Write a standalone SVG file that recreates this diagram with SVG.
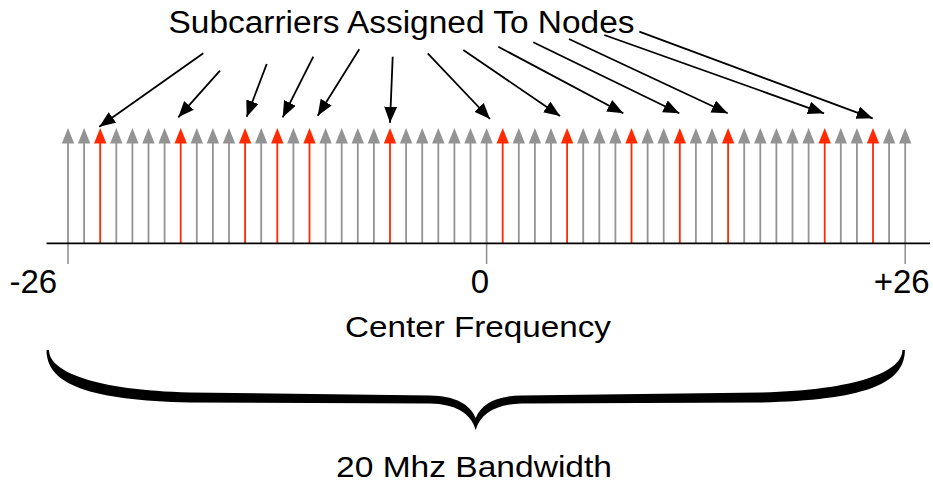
<svg xmlns="http://www.w3.org/2000/svg" xmlns:xlink="http://www.w3.org/1999/xlink" width="933" height="483" viewBox="0 0 933 483">
<style>
  .gray{stroke:#939393;fill:#939393}
  .red{stroke:#ff2a00;fill:#ff2a00}
  .txt{font-family:"Liberation Sans",Arial,Helvetica,sans-serif;fill:#000}
  .ptr line{stroke:#000;stroke-width:1.8}
  .ext{stroke:#939393;stroke-width:1.6}
</style>
<defs>
  <g id="stem">
    <line x1="0" y1="142" x2="0" y2="243" stroke-width="1.8"/>
    <path d="M-6.2,143.5 L0,128 L6.2,143.5 Z" stroke="none"/>
  </g>
  <marker id="ah" markerUnits="userSpaceOnUse" markerWidth="17" markerHeight="14" refX="16" refY="6.5" orient="auto">
    <path d="M0,0 L16,6.5 L0,13 Z" fill="#000"/>
  </marker>
</defs>
<rect width="933" height="483" fill="#fff"/>

<g id="subcarriers">
  <g id="sc-n26" class="gray"><use xlink:href="#stem" x="68"/></g>
  <g id="sc-n25" class="gray"><use xlink:href="#stem" x="84.1"/></g>
  <g id="sc-n24" class="red"><use xlink:href="#stem" x="100.2"/></g>
  <g id="sc-n23" class="gray"><use xlink:href="#stem" x="116.3"/></g>
  <g id="sc-n22" class="gray"><use xlink:href="#stem" x="132.4"/></g>
  <g id="sc-n21" class="gray"><use xlink:href="#stem" x="148.5"/></g>
  <g id="sc-n20" class="gray"><use xlink:href="#stem" x="164.6"/></g>
  <g id="sc-n19" class="red"><use xlink:href="#stem" x="180.7"/></g>
  <g id="sc-n18" class="gray"><use xlink:href="#stem" x="196.8"/></g>
  <g id="sc-n17" class="gray"><use xlink:href="#stem" x="212.9"/></g>
  <g id="sc-n16" class="gray"><use xlink:href="#stem" x="229"/></g>
  <g id="sc-n15" class="red"><use xlink:href="#stem" x="245.1"/></g>
  <g id="sc-n14" class="gray"><use xlink:href="#stem" x="261.2"/></g>
  <g id="sc-n13" class="red"><use xlink:href="#stem" x="277.3"/></g>
  <g id="sc-n12" class="gray"><use xlink:href="#stem" x="293.4"/></g>
  <g id="sc-n11" class="red"><use xlink:href="#stem" x="309.5"/></g>
  <g id="sc-n10" class="gray"><use xlink:href="#stem" x="325.6"/></g>
  <g id="sc-n9" class="gray"><use xlink:href="#stem" x="341.7"/></g>
  <g id="sc-n8" class="gray"><use xlink:href="#stem" x="357.8"/></g>
  <g id="sc-n7" class="gray"><use xlink:href="#stem" x="373.9"/></g>
  <g id="sc-n6" class="red"><use xlink:href="#stem" x="390"/></g>
  <g id="sc-n5" class="gray"><use xlink:href="#stem" x="406.1"/></g>
  <g id="sc-n4" class="gray"><use xlink:href="#stem" x="422.2"/></g>
  <g id="sc-n3" class="gray"><use xlink:href="#stem" x="438.3"/></g>
  <g id="sc-n2" class="gray"><use xlink:href="#stem" x="454.4"/></g>
  <g id="sc-n1" class="gray"><use xlink:href="#stem" x="470.5"/></g>
  <g id="sc-0" class="gray"><use xlink:href="#stem" x="486.6"/></g>
  <g id="sc-p1" class="red"><use xlink:href="#stem" x="502.7"/></g>
  <g id="sc-p2" class="gray"><use xlink:href="#stem" x="518.8"/></g>
  <g id="sc-p3" class="gray"><use xlink:href="#stem" x="534.9"/></g>
  <g id="sc-p4" class="gray"><use xlink:href="#stem" x="551"/></g>
  <g id="sc-p5" class="red"><use xlink:href="#stem" x="567.1"/></g>
  <g id="sc-p6" class="gray"><use xlink:href="#stem" x="583.2"/></g>
  <g id="sc-p7" class="gray"><use xlink:href="#stem" x="599.3"/></g>
  <g id="sc-p8" class="gray"><use xlink:href="#stem" x="615.4"/></g>
  <g id="sc-p9" class="red"><use xlink:href="#stem" x="631.5"/></g>
  <g id="sc-p10" class="gray"><use xlink:href="#stem" x="647.6"/></g>
  <g id="sc-p11" class="gray"><use xlink:href="#stem" x="663.7"/></g>
  <g id="sc-p12" class="red"><use xlink:href="#stem" x="679.8"/></g>
  <g id="sc-p13" class="gray"><use xlink:href="#stem" x="695.9"/></g>
  <g id="sc-p14" class="gray"><use xlink:href="#stem" x="712"/></g>
  <g id="sc-p15" class="red"><use xlink:href="#stem" x="728.1"/></g>
  <g id="sc-p16" class="gray"><use xlink:href="#stem" x="744.2"/></g>
  <g id="sc-p17" class="gray"><use xlink:href="#stem" x="760.3"/></g>
  <g id="sc-p18" class="gray"><use xlink:href="#stem" x="776.4"/></g>
  <g id="sc-p19" class="gray"><use xlink:href="#stem" x="792.5"/></g>
  <g id="sc-p20" class="gray"><use xlink:href="#stem" x="808.6"/></g>
  <g id="sc-p21" class="red"><use xlink:href="#stem" x="824.7"/></g>
  <g id="sc-p22" class="gray"><use xlink:href="#stem" x="840.8"/></g>
  <g id="sc-p23" class="gray"><use xlink:href="#stem" x="856.9"/></g>
  <g id="sc-p24" class="red"><use xlink:href="#stem" x="873"/></g>
  <g id="sc-p25" class="gray"><use xlink:href="#stem" x="889.1"/></g>
  <g id="sc-p26" class="gray"><use xlink:href="#stem" x="905.2"/></g>
</g>

<g id="axis">
  <line class="ext" x1="68" y1="243" x2="68" y2="264"/>
  <line class="ext" x1="486.6" y1="243" x2="486.6" y2="264"/>
  <line class="ext" x1="905.2" y1="243" x2="905.2" y2="264"/>
  <line x1="46.5" y1="243.3" x2="930" y2="243.3" stroke="#000" stroke-width="1.8"/>
</g>

<g id="title">
  <text class="txt" x="168.5" y="32.5" font-size="31" textLength="466" lengthAdjust="spacingAndGlyphs">Subcarriers Assigned To Nodes</text>
</g>

<g id="connectors" class="ptr">
  <line x1="203.3" y1="53.3" x2="99.3" y2="126.7" marker-end="url(#ah)"/>
  <line x1="220" y1="70.7" x2="178.3" y2="117.3" marker-end="url(#ah)"/>
  <line x1="266.7" y1="64" x2="246.7" y2="116.7" marker-end="url(#ah)"/>
  <line x1="313.3" y1="56.7" x2="282.7" y2="117.3" marker-end="url(#ah)"/>
  <line x1="359.3" y1="49.3" x2="317.7" y2="115.7" marker-end="url(#ah)"/>
  <line x1="392.7" y1="56.7" x2="390" y2="122.7" marker-end="url(#ah)"/>
  <line x1="427.7" y1="53.3" x2="490" y2="119" marker-end="url(#ah)"/>
  <line x1="463.3" y1="50" x2="560" y2="116" marker-end="url(#ah)"/>
  <line x1="498.3" y1="46.7" x2="623.3" y2="113.3" marker-end="url(#ah)"/>
  <line x1="533.3" y1="42.3" x2="679.3" y2="113.3" marker-end="url(#ah)"/>
  <line x1="569" y1="39" x2="727.7" y2="113.3" marker-end="url(#ah)"/>
  <line x1="604.3" y1="35" x2="824" y2="113.3" marker-end="url(#ah)"/>
  <line x1="639.3" y1="31.7" x2="872.7" y2="118.3" marker-end="url(#ah)"/>
</g>

<g id="labels">
  <text class="txt" x="33.3" y="292.7" font-size="33" text-anchor="middle">-26</text>
  <text class="txt" x="480" y="292.7" font-size="33" text-anchor="middle">0</text>
  <text class="txt" x="901.7" y="292.7" font-size="33" text-anchor="middle">+26</text>
  <text class="txt" x="345" y="336.5" font-size="29.5" textLength="266" lengthAdjust="spacingAndGlyphs">Center Frequency</text>
</g>

<g id="brace">
  <path fill="#000" d="M46.5,350 L49,350 C49,372 95,390 190,392.5 L430,395.5 C455,396 470,404 475.7,418 C481.4,404 496.4,396 521.4,395.5 L761.4,392.5 C856.4,390 902.4,372 902.4,350 L904.9,350 C904.9,385 861.4,400 761.4,402.5 L521.4,403.5 C496.4,404 480.4,413 475.7,430 C471,413 455,404 430,403.5 L190,402.5 C90,400 46.5,385 46.5,350 Z"/>
  <text class="txt" x="336" y="476.7" font-size="30" textLength="276" lengthAdjust="spacingAndGlyphs">20 Mhz Bandwidth</text>
</g>
</svg>
